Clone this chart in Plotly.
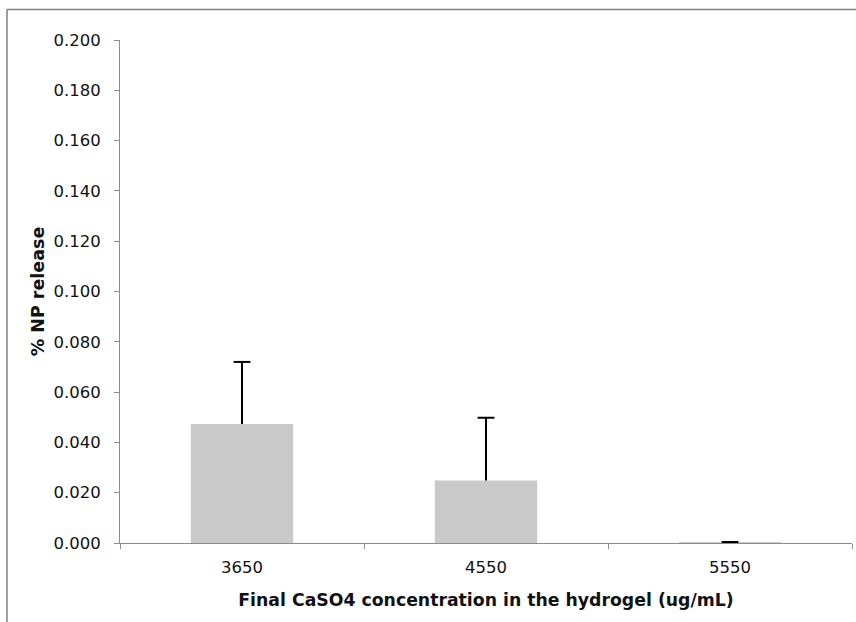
import plotly.graph_objects as go

# CaSO4 concentration groups and measured NP release
concentrations = ["3650", "4550", "5550"]
np_release = [0.0473, 0.0249, 0.0002]
np_release_err = [0.0247, 0.0249, 0.0002]

y_ticks = [0.0, 0.02, 0.04, 0.06, 0.08, 0.10, 0.12, 0.14, 0.16, 0.18, 0.20]

W, H = 856, 622
ML, MR, MT, MB = 120, 4, 40, 79
PW, PH = W - ML - MR, H - MT - MB

FONT = "DejaVu Sans, Verdana, sans-serif"
AXIS_GREY = "#8c8c8c"

fig = go.Figure()
fig.add_trace(go.Bar(
    x=concentrations,
    y=np_release,
    marker=dict(color="#c9c9c9", line=dict(width=0)),
    showlegend=False,
))

# upward-only error bars: stem from bar top, cap at bar top + error
err_top = [v + e for v, e in zip(np_release, np_release_err)]
for c, v, t in zip(concentrations, np_release, err_top):
    fig.add_trace(go.Scatter(
        x=[c, c], y=[v, t], mode="lines",
        line=dict(color="black", width=2),
        showlegend=False, hoverinfo="skip",
    ))
fig.add_trace(go.Scatter(
    x=concentrations, y=err_top, mode="markers",
    marker=dict(symbol="line-ew", size=12, line=dict(color="black", width=2)),
    showlegend=False, hoverinfo="skip",
))

# outer chart-area frame (top and left edges)
fx = (7 - ML) / PW
fy = 1 + (MT - 9.5) / PH
fig.add_shape(type="line", xref="paper", yref="paper",
              x0=fx, x1=fx, y0=fy, y1=-0.3,
              line=dict(color="#808080", width=1.5))
fig.add_shape(type="line", xref="paper", yref="paper",
              x0=fx, x1=1.2, y0=fy, y1=fy,
              line=dict(color="#808080", width=1.5))

fig.update_layout(
    width=W, height=H,
    margin=dict(l=ML, r=MR, t=MT, b=MB),
    paper_bgcolor="white",
    plot_bgcolor="white",
    bargap=0.58,
    font=dict(family=FONT, size=16, color="#111111"),
    xaxis=dict(
        type="category",
        showline=True, linecolor=AXIS_GREY, linewidth=1,
        ticks="outside", tickson="boundaries", ticklen=5, tickcolor=AXIS_GREY,
        tickfont=dict(size=16.5),
        ticklabelstandoff=9,
        showgrid=False, zeroline=False,
        title=dict(text="<b>Final CaSO4 concentration in the hydrogel (ug/mL)</b>",
                   font=dict(size=17.3), standoff=18),
    ),
    yaxis=dict(
        range=[0, 0.2],
        tickvals=y_ticks,
        tickformat=".3f",
        showline=True, linecolor=AXIS_GREY, linewidth=1,
        ticks="outside", ticklen=5, tickcolor=AXIS_GREY,
        tickfont=dict(size=16.5),
        ticklabelstandoff=10,
        showgrid=False, zeroline=False,
        title=dict(text="<b>% NP release</b>", font=dict(size=17.5), standoff=4),
    ),
)

fig.write_html("out.html")
